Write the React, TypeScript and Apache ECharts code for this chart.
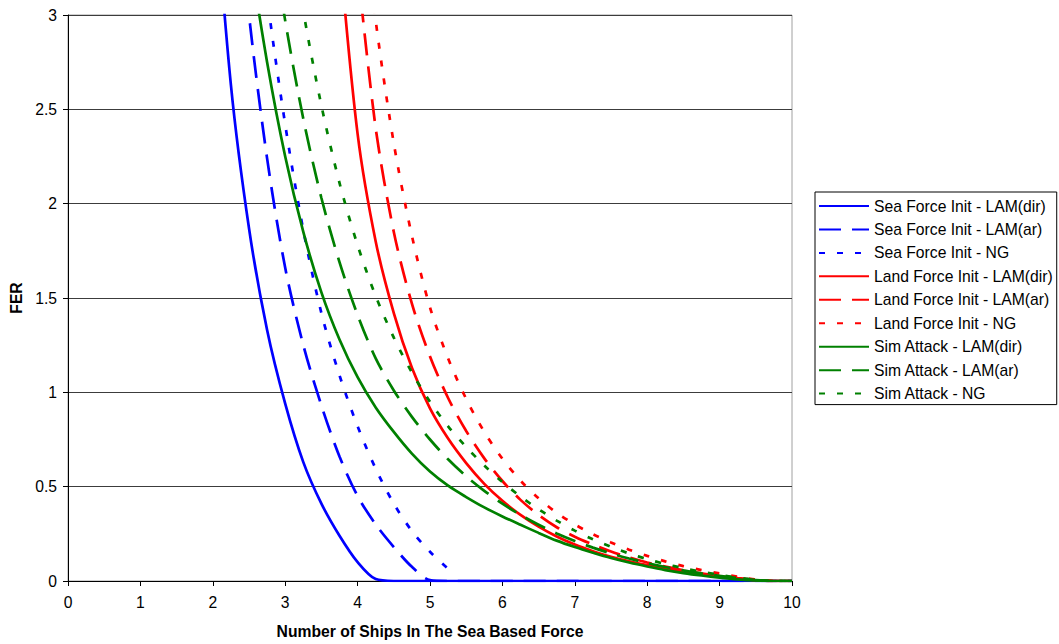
import React, { useEffect, useRef } from "react";
import * as echarts from "echarts";

// x positions (number of ships)
const xs = [2, 2.25, 2.5, 2.75, 3, 3.25, 3.5, 3.75, 4, 4.25, 4.5, 4.75, 5, 5.25, 5.5, 5.75, 6, 6.25, 6.5, 6.75, 7, 7.25, 7.5, 7.75, 8, 8.25, 8.5, 8.75, 9, 9.25, 9.5, 9.75, 10];

const seaDir = [3.8, 2.63, 1.87, 1.33, 0.94, 0.63, 0.41, 0.24, 0.1, 0.01, 0, 0, 0, 0, 0, 0, 0, 0, 0, 0, 0, 0, 0, 0, 0, 0, 0, 0, 0, 0, 0, 0, 0];
const seaAr = [null, 4.0, 3.0, 2.24, 1.66, 1.25, 0.93, 0.66, 0.45, 0.3, 0.18, 0.075, 0.005, 0, 0, 0, 0, 0, 0, 0, 0, 0, 0, 0, 0, 0, 0, 0, 0, 0, 0, 0, 0];
const seaNG = [null, null, 4.0, 3.1, 2.42, 1.86, 1.42, 1.09, 0.82, 0.595, 0.41, 0.265, 0.155, 0.065, null, null, null, null, null, null, null, null, null, null, null, null, null, null, null, null, null, null, null];
const landDir = [null, null, null, null, null, null, null, 3.35, 2.37, 1.8, 1.42, 1.13, 0.915, 0.755, 0.625, 0.515, 0.425, 0.35, 0.288, 0.236, 0.193, 0.158, 0.128, 0.104, 0.084, 0.066, 0.05, 0.037, 0.026, 0.014, 0.004, 0, 0];
const landAr = [null, null, null, null, null, null, null, null, 3.25, 2.4, 1.85, 1.47, 1.19, 0.97, 0.795, 0.65, 0.53, 0.43, 0.35, 0.285, 0.235, 0.193, 0.156, 0.125, 0.098, 0.076, 0.057, 0.041, 0.028, 0.016, 0.006, 0, 0];
const landNG = [null, null, null, null, null, null, null, null, 3.8, 2.97, 2.32, 1.83, 1.45, 1.18, 0.965, 0.79, 0.648, 0.532, 0.438, 0.362, 0.3, 0.248, 0.204, 0.166, 0.133, 0.104, 0.079, 0.058, 0.04, 0.023, 0.008, 0, 0];
const simDir = [null, null, 3.35, 2.75, 2.25, 1.85, 1.53, 1.28, 1.08, 0.92, 0.79, 0.675, 0.58, 0.505, 0.445, 0.39, 0.342, 0.298, 0.255, 0.214, 0.18, 0.15, 0.122, 0.098, 0.077, 0.058, 0.042, 0.029, 0.018, 0.009, 0.003, 0, 0];
const simAr = [null, null, null, 3.6, 2.97, 2.45, 2.03, 1.69, 1.41, 1.18, 1.01, 0.87, 0.75, 0.645, 0.555, 0.478, 0.41, 0.35, 0.298, 0.252, 0.212, 0.177, 0.146, 0.119, 0.095, 0.074, 0.056, 0.04, 0.027, 0.015, 0.005, 0, 0];
const simNG = [null, null, null, null, 3.62, 3.02, 2.52, 2.11, 1.78, 1.51, 1.29, 1.105, 0.95, 0.82, 0.71, 0.612, 0.525, 0.448, 0.38, 0.32, 0.267, 0.221, 0.181, 0.146, 0.116, 0.09, 0.068, 0.049, 0.033, 0.018, 0.006, 0, 0];

const seriesNames = [
  "Sea Force Init - LAM(dir)",
  "Sea Force Init - LAM(ar)",
  "Sea Force Init - NG",
  "Land Force Init - LAM(dir)",
  "Land Force Init - LAM(ar)",
  "Land Force Init - NG",
  "Sim Attack - LAM(dir)",
  "Sim Attack - LAM(ar)",
  "Sim Attack - NG",
];
const seriesValues = [seaDir, seaAr, seaNG, landDir, landAr, landNG, simDir, simAr, simNG];
const seriesColors = ["#0000FF", "#0000FF", "#0000FF", "#FF0000", "#FF0000", "#FF0000", "#008000", "#008000", "#008000"];
const seriesDash: any[] = ["solid", [22, 11], [6, 12], "solid", [22, 11], [6, 12], "solid", [22, 11], [6, 12]];

const FONT = "Liberation Sans, Arial, sans-serif";
const FS = 15.7;

export default function App() {
  const ref = useRef<HTMLDivElement>(null);
  useEffect(() => {
    if (!ref.current) return;
    const chart = echarts.init(ref.current, null, { renderer: "svg" });
    const series = seriesNames.map((name, k) => ({
      name,
      type: "line",
      data: xs
        .map((x, i) => [x, seriesValues[k][i]])
        .filter((p) => p[1] !== null),
      symbol: "none",
      showSymbol: false,
      smooth: 0.3,
      clip: true,
      lineStyle: { color: seriesColors[k], width: 2.7, type: seriesDash[k] },
      itemStyle: { color: seriesColors[k] },
      emphasis: { disabled: true },
    }));
    chart.setOption({
      animation: false,
      backgroundColor: "#ffffff",
      grid: {
        left: 68,
        top: 15,
        width: 724,
        height: 566,
        show: true,
        borderColor: "#a0a0a0",
        borderWidth: 1,
        containLabel: false,
        outerBoundsMode: "none",
      },
      legend: {
        orient: "vertical",
        left: 815,
        top: 192,
        itemWidth: 50,
        itemHeight: 16,
        itemGap: 7.45,
        padding: [6, 4, 3, 3],
        borderColor: "#000",
        borderWidth: 1,
        selectedMode: false,
        itemStyle: { opacity: 0, borderWidth: 0 },
        textStyle: { fontFamily: FONT, fontSize: FS, color: "#000", lineHeight: 16 },
        data: seriesNames,
      },
      xAxis: {
        type: "value",
        min: 0,
        max: 10,
        interval: 1,
        name: "Number of Ships In The Sea Based Force",
        nameLocation: "middle",
        nameGap: 42,
        nameTextStyle: { fontFamily: FONT, fontSize: FS, fontWeight: "bold", color: "#000" },
        axisLine: { onZero: false, lineStyle: { color: "#000", width: 1 } },
        axisTick: { show: true, inside: false, length: 5, lineStyle: { color: "#000" } },
        axisLabel: { fontFamily: FONT, fontSize: FS, color: "#000", margin: 13 },
        splitLine: { show: false },
      },
      yAxis: {
        type: "value",
        min: 0,
        max: 3,
        interval: 0.5,
        name: "FER",
        nameLocation: "middle",
        nameGap: 43,
        nameTextStyle: { fontFamily: FONT, fontSize: FS, fontWeight: "bold", color: "#000" },
        axisLine: { show: true, lineStyle: { color: "#000", width: 1 } },
        axisTick: { show: true, inside: false, length: 5, lineStyle: { color: "#000" } },
        axisLabel: { fontFamily: FONT, fontSize: FS, color: "#000", margin: 11 },
        splitLine: { show: true, lineStyle: { color: "#3c3c3c", width: 1 } },
      },
      series,
    });
    return () => chart.dispose();
  }, []);
  return (
    <div
      ref={ref}
      style={{ position: "fixed", left: 0, top: 0, width: 1059, height: 644, background: "#fff" }}
    />
  );
}
